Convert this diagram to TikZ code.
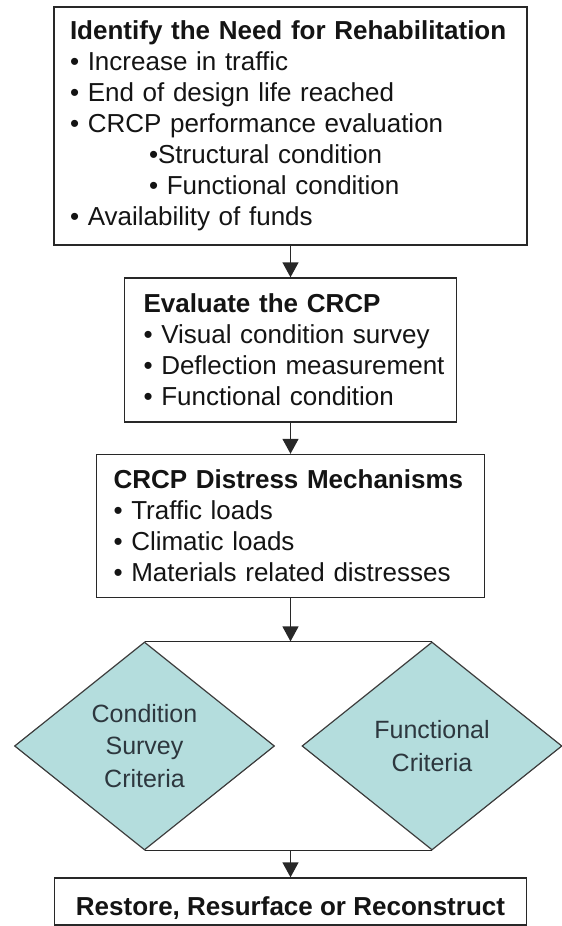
\documentclass[tikz,border=0pt]{standalone}
\usepackage{fontspec}
\setmainfont{Liberation Sans}
\usetikzlibrary{shapes.geometric,arrows.meta}
\definecolor{linegray}{RGB}{40,40,40}
\definecolor{txt}{RGB}{20,20,20}
\definecolor{diafill}{RGB}{180,221,221}
\definecolor{diatxt}{RGB}{45,55,62}
\tikzset{
  box/.style={draw=linegray, line width=1.4pt, fill=white, rectangle, align=left,
    text=txt, font=\fontsize{26}{31}\selectfont, inner ysep=0pt},
  crit/.style={draw=linegray!90, line width=1.2pt, fill=diafill, diamond, inner sep=0pt,
    minimum width=260pt, minimum height=208pt, align=center, text=diatxt,
    font=\fontsize{25}{32.5}\selectfont},
  arr/.style={draw=linegray, line width=1.4pt, -{Triangle[length=15pt,width=16pt]}},
  bar/.style={draw=linegray, line width=1.4pt},
}
\begin{document}
\begin{tikzpicture}[x=1pt,y=-1pt]
\useasboundingbox (0,0) rectangle (562,926);
\node[box, minimum width=473pt, minimum height=238pt, text width=441pt, inner xsep=16pt] (b1) at (290.5,126)
 {\mbox{\textbf{Identify the Need for Rehabilitation}}\\
 \mbox{• Increase in traffic}\\
 \mbox{• End of design life reached}\\
 \mbox{• CRCP performance evaluation}\\
 \mbox{\hspace*{79pt}•Structural condition}\\
 \mbox{\hspace*{79pt}• Functional condition}\\
 \mbox{• Availability of funds}};
\node[box, minimum width=332pt, minimum height=144pt, text width=294pt, inner xsep=19pt] (b2) at (290.5,350)
 {\mbox{\textbf{Evaluate the CRCP}}\\
 \mbox{• Visual condition survey}\\
 \mbox{• Deflection measurement}\\
 \mbox{• Functional condition}};
\node[box, minimum width=388pt, minimum height=143pt, text width=354pt, inner xsep=17pt] (b3) at (290.5,526)
 {\mbox{\textbf{CRCP Distress Mechanisms}}\\
 \mbox{• Traffic loads}\\
 \mbox{• Climatic loads}\\
 \mbox{• Materials related distresses}};
\node[crit] (d1) at (144.5,746) {Condition\\Survey\\Criteria};
\node[crit] (d2) at (432,746) {Functional\\Criteria};
\node[box, align=center, minimum width=472pt, minimum height=47pt, text height=27pt, text depth=0pt] (b4) at (290.5,901.5)
 {\textbf{Restore, Resurface or Reconstruct}};
\coordinate (topbar) at (b3.south |- d1.north);
\coordinate (botbar) at (b4.north |- d1.south);
\draw[arr] (b1.south) -- (b2.north);
\draw[arr] (b2.south) -- (b3.north);
\draw[bar] (d1.north) -- (d2.north);
\draw[arr] (b3.south) -- (topbar);
\draw[bar] (d1.south) -- (d2.south);
\draw[arr] (botbar) -- (b4.north);
\end{tikzpicture}
\end{document}
